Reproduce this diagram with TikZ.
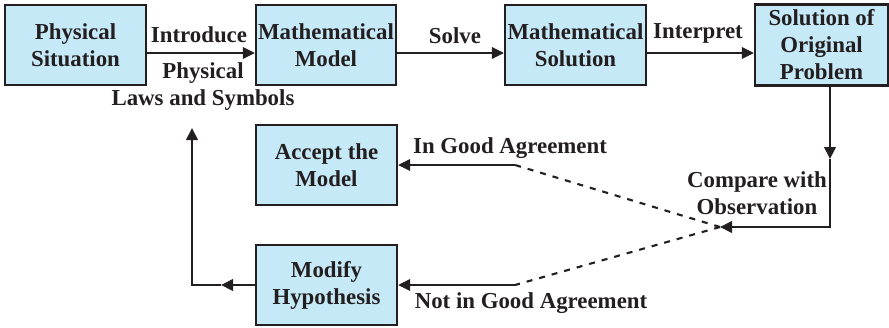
\documentclass[tikz,border=0pt]{standalone}
\usepackage{fontspec}
\setmainfont{Liberation Serif}
\usetikzlibrary{arrows.meta}
\definecolor{MMBlue}{HTML}{C6E9F8}
\definecolor{MMInk}{HTML}{231F20}
\tikzset{
  mmfont/.style={font=\fontsize{13}{15.4}\selectfont\bfseries},
  mmbox/.style={mmfont,draw=MMInk,fill=MMBlue,line width=1.3pt,text=MMInk,
    minimum width=2.82cm,minimum height=1.6cm,align=center,inner sep=0pt},
  mmtext/.style={mmfont,align=center,inner sep=0pt,text=MMInk},
  mmline/.style={draw=MMInk,line width=1.2pt},
  mmarrow/.style={mmline,-{Triangle[length=2.4mm,width=2.3mm]}},
  mmdash/.style={mmline,dash pattern=on 1.2mm off 1.4mm}
}

\begin{document}
\begin{tikzpicture}[x=1cm,y=1cm]
\path[use as bounding box] (0,0) rectangle (17.78,6.54);
% boxes
\node[mmbox] (phys) at (1.51,5.64) {Physical\\Situation};
\node[mmbox,minimum width=2.80cm] (model) at (6.52,5.64) {Mathematical\\Model};
\node[mmbox] (msol) at (11.51,5.64) {Mathematical\\Solution};
\node[mmbox,minimum width=2.66cm,minimum height=1.62cm] (orig) at (16.43,5.64) {Solution of\\Original\\Problem};
\node[mmbox] (accept) at (6.53,3.24) {Accept the\\Model};
\node[mmbox] (modify) at (6.53,0.84) {Modify\\Hypothesis};
% labels
\node[mmtext] (introlbl) at (3.98,5.84) {Introduce};
\node[mmtext] (lawslbl) at (4.06,4.81) {Physical\\Laws and Symbols};
\node[mmtext] (solvelbl) at (9.10,5.82) {Solve};
\node[mmtext] (interplbl) at (13.96,5.88) {Interpret};
\node[mmtext] (comparelbl) at (15.14,2.68) {Compare with\\Observation};
\node[mmtext] (goodlbl) at (10.20,3.58) {In Good Agreement};
\node[mmtext] (badlbl) at (10.62,0.48) {Not in Good Agreement};
% turning points
\coordinate (goodend) at (10.30,3.24);
\coordinate (badend) at (10.30,0.84);
\coordinate (meet) at (14.40,2.00);
\coordinate (turn) at (16.60,2.00);
\coordinate (downmid) at (16.60,3.36);
\coordinate (leftmid) at (4.42,0.84);
\coordinate (leftturn) at (3.84,0.84);
\coordinate (uptop) at (3.84,3.98);
% connectors
\draw[mmarrow] ([yshift=-0.16cm]phys.east) -- ([yshift=-0.16cm]model.west);
\draw[mmarrow] ([yshift=-0.16cm]model.east) -- ([yshift=-0.16cm]msol.west);
\draw[mmarrow] ([yshift=-0.16cm]msol.east) -- ([yshift=-0.16cm]orig.west);
\draw[mmarrow] (orig.south -| turn) -- (downmid);
\draw[mmarrow] (downmid) -- (turn) -- (meet);
\draw[mmdash] (meet) -- (goodend);
\draw[mmdash] (meet) -- (badend);
\draw[mmarrow] (goodend) -- (accept.east);
\draw[mmarrow] (badend) -- (modify.east);
\draw[mmarrow] (modify.west) -- (leftmid);
\draw[mmarrow] (leftmid) -- (leftturn) -- (uptop);
\end{tikzpicture}
\end{document}
